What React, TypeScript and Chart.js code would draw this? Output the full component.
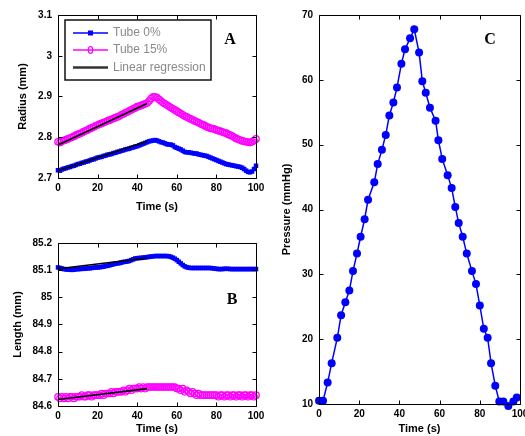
import React, { useEffect, useRef } from "react";
import { Chart, registerables } from "chart.js";

Chart.register(...registerables);

// ---------- DATA ----------
// sample times (s) for panels A and B: one sample per second, 0..100
const sampleTimes: number[] = Array.from({ length: 101 }, (_, i) => i);

// Panel A: Radius (mm)
const radiusTube0: number[] = [
  2.719, 2.718, 2.721, 2.723, 2.724, 2.726, 2.727, 2.729, 2.730, 2.732, 2.734,
  2.735, 2.737, 2.738, 2.740, 2.741, 2.743, 2.745, 2.746, 2.748, 2.750,
  2.751, 2.752, 2.754, 2.755, 2.757, 2.758, 2.759, 2.761, 2.762, 2.764,
  2.765, 2.767, 2.768, 2.770, 2.771, 2.772, 2.774, 2.775, 2.777, 2.778,
  2.780, 2.782, 2.784, 2.786, 2.788, 2.790, 2.791, 2.792, 2.793, 2.792,
  2.790, 2.788, 2.787, 2.785, 2.783, 2.782, 2.782, 2.780, 2.776, 2.774,
  2.772, 2.770, 2.767, 2.764, 2.763, 2.763, 2.762, 2.761, 2.760, 2.760,
  2.758, 2.757, 2.756, 2.755, 2.754, 2.752, 2.750, 2.748, 2.746, 2.744,
  2.742, 2.740, 2.738, 2.736, 2.734, 2.733, 2.732, 2.731, 2.730, 2.729,
  2.728, 2.727, 2.725, 2.722, 2.718, 2.715, 2.714, 2.716, 2.722, 2.730,
];
const radiusTube15: number[] = [
  2.789, 2.787, 2.790, 2.792, 2.794, 2.796, 2.798, 2.800, 2.802, 2.805, 2.807,
  2.809, 2.811, 2.814, 2.816, 2.818, 2.821, 2.823, 2.825, 2.828, 2.830,
  2.832, 2.834, 2.836, 2.838, 2.840, 2.842, 2.844, 2.846, 2.848, 2.850,
  2.852, 2.855, 2.857, 2.860, 2.862, 2.865, 2.867, 2.870, 2.872, 2.875,
  2.876, 2.878, 2.880, 2.882, 2.884, 2.889, 2.895, 2.899, 2.899, 2.897,
  2.893, 2.889, 2.885, 2.882, 2.879, 2.876, 2.873, 2.870, 2.867, 2.864,
  2.861, 2.858, 2.855, 2.852, 2.850, 2.847, 2.845, 2.843, 2.840, 2.838,
  2.836, 2.833, 2.831, 2.829, 2.826, 2.824, 2.822, 2.821, 2.820, 2.818,
  2.816, 2.815, 2.813, 2.811, 2.810, 2.807, 2.805, 2.803, 2.800, 2.797,
  2.795, 2.793, 2.791, 2.790, 2.789, 2.788, 2.787, 2.789, 2.792, 2.796,
];

// Panel B: Length (mm)
const lengthTube0: number[] = [
  85.110, 85.108, 85.106, 85.104, 85.103, 85.102, 85.102, 85.101, 85.102, 85.103, 85.104,
  85.104, 85.105, 85.105, 85.106, 85.107, 85.107, 85.108, 85.109, 85.110, 85.110,
  85.111, 85.112, 85.113, 85.115, 85.116, 85.118, 85.120, 85.122, 85.124, 85.125,
  85.126, 85.128, 85.130, 85.131, 85.132, 85.134, 85.137, 85.140, 85.143, 85.144,
  85.145, 85.145, 85.146, 85.147, 85.148, 85.149, 85.150, 85.151, 85.152, 85.152,
  85.152, 85.152, 85.152, 85.152, 85.152, 85.151, 85.149, 85.146, 85.142, 85.137,
  85.131, 85.125, 85.119, 85.114, 85.111, 85.109, 85.108, 85.108, 85.108, 85.108,
  85.108, 85.108, 85.108, 85.108, 85.108, 85.108, 85.108, 85.107, 85.106, 85.105,
  85.104, 85.104, 85.104, 85.105, 85.105, 85.105, 85.104, 85.104, 85.104, 85.104,
  85.104, 85.104, 85.104, 85.104, 85.104, 85.104, 85.104, 85.104, 85.104, 85.104,
];
const lengthTube15: number[] = [
  84.634, 84.628, 84.634, 84.628, 84.634, 84.628, 84.634, 84.634, 84.628, 84.634, 84.634,
  84.634, 84.640, 84.634, 84.634, 84.640, 84.640, 84.634, 84.640, 84.640, 84.640,
  84.640, 84.646, 84.640, 84.646, 84.646, 84.646, 84.652, 84.646, 84.652, 84.652,
  84.652, 84.652, 84.658, 84.652, 84.658, 84.664, 84.658, 84.664, 84.664, 84.664,
  84.670, 84.664, 84.670, 84.664, 84.670, 84.670, 84.670, 84.670, 84.670, 84.670,
  84.670, 84.670, 84.670, 84.670, 84.670, 84.670, 84.670, 84.670, 84.670, 84.664,
  84.664, 84.658, 84.664, 84.652, 84.658, 84.652, 84.646, 84.652, 84.646, 84.640,
  84.646, 84.640, 84.640, 84.640, 84.640, 84.640, 84.640, 84.640, 84.640, 84.640,
  84.634, 84.640, 84.640, 84.634, 84.640, 84.640, 84.634, 84.640, 84.640, 84.634,
  84.640, 84.640, 84.634, 84.640, 84.640, 84.634, 84.640, 84.640, 84.634, 84.640,
];

// Linear regression over the loading phase (0..45 s)
const regressionTimes: number[] = [0, 45];
const regRadiusTube0: number[] = [2.718, 2.790];
const regRadiusTube15: number[] = [2.781, 2.883];
const regLengthTube0: number[] = [85.105, 85.145];
const regLengthTube15: number[] = [84.624, 84.664];

// Panel C: Pressure (mmHg)
const pressureTimes: number[] = [
  0, 2, 4.3, 6.3, 9.1, 11, 13.1, 15.1, 16.9, 18.9, 20.7, 22.7, 24.4, 27.5, 29.2, 31.3,
  33.2, 35, 37, 38.8, 41, 42.8, 45.3, 47.4, 49.8, 51.4, 53.1, 55.2, 58, 59.4, 61.3, 64,
  66, 67.8, 69.5, 71.5, 73.5, 76.1, 78.1, 80, 82, 83.9, 85.6, 87.7, 89.7, 91.7, 94.2,
  96.7, 98.4,
];
const pressureValues: number[] = [
  10.5, 10.5, 13.3, 16.3, 20.2, 23.7, 25.7, 27.5, 30.5, 33.2, 35.8, 38.5, 41.5, 44.2, 47, 49.2,
  51.5, 54.5, 56.5, 58.8, 62.5, 64.7, 66.4, 67.8, 64.2, 59.8, 58, 55.7, 53.7, 50.7, 47.8, 45.3,
  43.3, 40.4, 37.9, 35.8, 33.2, 30.5, 28.5, 25.2, 21.6, 20.2, 16.3, 12.8, 10.4, 10.4, 9.7,
  10.4, 11,
];

const seriesLabels = ["Tube 0%", "Tube 15%", "Linear regression"];
const xTicks = [0, 20, 40, 60, 80, 100];

// ---------- STYLE ----------
const BLUE = "#0000ff";
const MAGENTA = "#ff00ff";
const SANS = '"Liberation Sans", Arial, sans-serif';

const pts = (xs: number[], ys: number[]) => xs.map((x, i) => ({ x, y: ys[i] }));

const framePlugin = {
  id: "frame",
  afterDatasetsDraw(chart: any, _args: any, opts: any) {
    const { ctx, chartArea: a, scales } = chart;
    ctx.save();
    ctx.strokeStyle = "#000";
    ctx.lineWidth = 1;
    const L = Math.round(a.left) + 0.5,
      R = Math.round(a.right) + 0.5,
      T = Math.round(a.top) + 0.5,
      B = Math.round(a.bottom) + 0.5;
    ctx.beginPath();
    ctx.rect(L, T, R - L, B - T);
    ctx.stroke();
    const tl = 4;
    ctx.beginPath();
    scales.x.ticks.forEach((t: any) => {
      const px = Math.round(scales.x.getPixelForValue(t.value)) + 0.5;
      ctx.moveTo(px, B);
      ctx.lineTo(px, B - tl);
      ctx.moveTo(px, T);
      ctx.lineTo(px, T + tl);
    });
    scales.y.ticks.forEach((t: any) => {
      const py = Math.round(scales.y.getPixelForValue(t.value)) + 0.5;
      ctx.moveTo(L, py);
      ctx.lineTo(L + tl, py);
      ctx.moveTo(R, py);
      ctx.lineTo(R - tl, py);
    });
    ctx.stroke();

    // panel letter
    ctx.fillStyle = "#000";
    ctx.font = 'bold 16px "Liberation Serif", "Times New Roman", serif';
    ctx.textAlign = "center";
    ctx.textBaseline = "middle";
    ctx.fillText(opts.letter, a.left + opts.letterDx, a.top + opts.letterDy);

    // legend box
    if (opts.legend) {
      const x0 = a.left + 7,
        y0 = a.top + 5,
        w = 146,
        h = 60;
      ctx.fillStyle = "#fff";
      ctx.fillRect(x0, y0, w, h);
      ctx.lineWidth = 1.5;
      ctx.strokeStyle = "#111";
      ctx.strokeRect(x0, y0, w, h);
      const rows = [13, 30, 47.5];
      opts.legend.forEach((dsIndex: number, i: number) => {
        const ds = chart.data.datasets[dsIndex];
        const y = y0 + rows[i];
        ctx.strokeStyle = ds.legendColor || ds.borderColor;
        ctx.lineWidth = ds.legendLineWidth || 1.5;
        ctx.beginPath();
        ctx.moveTo(x0 + 8, y);
        ctx.lineTo(x0 + 43, y);
        ctx.stroke();
        if (ds.pointRadius > 0) {
          const cx = x0 + 25.5;
          ctx.beginPath();
          if (ds.legendMarker === "open") {
            ctx.ellipse(cx, y, 2.2, 3.5, 0, 0, Math.PI * 2);
            ctx.lineWidth = 1.2;
            ctx.strokeStyle = ds.borderColor;
            ctx.stroke();
          } else {
            ctx.fillStyle = ds.borderColor;
            ctx.fillRect(cx - 2.5, y - 2.5, 5, 5);
          }
        }
        ctx.fillStyle = "#8a8a8a";
        ctx.font = `12px ${SANS}`;
        ctx.textAlign = "left";
        ctx.textBaseline = "middle";
        ctx.fillText(ds.label, x0 + 48, y);
      });
    }
    ctx.restore();
  },
};

type PanelCfg = {
  left: number;
  top: number;
  width: number;
  height: number;
  padding: { left: number; top: number; right: number; bottom: number };
  yWidth: number;
  xHeight: number;
  yMin: number;
  yMax: number;
  yStep: number;
  yTitle: string;
  yTitleOffset: number;
  xTitleOffset: number;
  datasets: any[];
  frame: any;
};

function makeConfig(p: PanelCfg): any {
  const tickFont = { family: SANS, size: 10, weight: "bold" as const };
  const titleFont = { family: SANS, size: 11, weight: "bold" as const };
  return {
    type: "scatter",
    data: { datasets: p.datasets },
    plugins: [framePlugin],
    options: {
      animation: false,
      responsive: false,
      maintainAspectRatio: false,
      devicePixelRatio: 1,
      layout: { padding: p.padding },
      plugins: {
        legend: { display: false },
        tooltip: { enabled: false },
        frame: p.frame,
      },
      scales: {
        x: {
          type: "linear",
          min: 0,
          max: 100,
          afterBuildTicks: (s: any) => {
            s.ticks = xTicks.map((v) => ({ value: v }));
          },
          grid: { display: false, drawTicks: false },
          border: { display: false },
          ticks: { font: tickFont, color: "#000", padding: 4, maxRotation: 0 },
          title: {
            display: true,
            text: "Time (s)",
            font: titleFont,
            color: "#000",
            padding: { top: 0, bottom: p.xTitleOffset },
          },
          afterFit: (s: any) => {
            s.height = p.xHeight;
            s.paddingLeft = 0;
            s.paddingRight = 0;
          },
        },
        y: {
          type: "linear",
          min: p.yMin,
          max: p.yMax,
          grid: { display: false, drawTicks: false },
          border: { display: false },
          ticks: {
            stepSize: p.yStep,
            font: tickFont,
            color: "#000",
            padding: 6,
            callback: (v: number) => String(Number(v.toFixed(2))),
          },
          title: {
            display: true,
            text: p.yTitle,
            font: titleFont,
            color: "#000",
            padding: { top: p.yTitleOffset, bottom: 0 },
          },
          afterFit: (s: any) => {
            s.width = p.yWidth;
            s.paddingTop = 0;
            s.paddingBottom = 0;
          },
        },
      },
    },
  };
}

function regressionDataset(label: string, ys: number[]) {
  return {
    label,
    data: pts(regressionTimes, ys),
    showLine: true,
    borderColor: "#000",
    legendColor: "#333",
    legendLineWidth: 2.5,
    borderWidth: 1.6,
    pointRadius: 0,
    clip: false,
  };
}

function tube0Dataset(ys: number[]) {
  return {
    label: seriesLabels[0],
    data: pts(sampleTimes, ys),
    showLine: true,
    borderColor: BLUE,
    backgroundColor: BLUE,
    borderWidth: 1,
    pointStyle: "rect",
    pointRadius: 3.2,
    pointBorderWidth: 0,
    clip: false,
  };
}

function tube15Dataset(ys: number[]) {
  return {
    label: seriesLabels[1],
    data: pts(sampleTimes, ys),
    showLine: true,
    borderColor: MAGENTA,
    backgroundColor: "rgba(255,255,255,0)",
    borderWidth: 1,
    pointStyle: "circle",
    pointRadius: 3.2,
    pointBorderWidth: 1.3,
    legendMarker: "open",
    clip: false,
  };
}

const panelA: PanelCfg = {
  left: 0,
  top: 0,
  width: 270,
  height: 215,
  padding: { left: 0, top: 15, right: 14, bottom: 0 },
  yWidth: 58,
  xHeight: 37,
  yMin: 2.7,
  yMax: 3.1,
  yStep: 0.1,
  yTitle: "Radius (mm)",
  yTitleOffset: 16,
  xTitleOffset: 1,
  datasets: [
    regressionDataset(seriesLabels[2], regRadiusTube0),
    { ...regressionDataset("", regRadiusTube15) },
    tube0Dataset(radiusTube0),
    tube15Dataset(radiusTube15),
  ],
  frame: { letter: "A", letterDx: 172, letterDy: 25, legend: [2, 3, 0] },
};

const panelB: PanelCfg = {
  left: 0,
  top: 215,
  width: 270,
  height: 221,
  padding: { left: 0, top: 28, right: 14, bottom: 0 },
  yWidth: 58,
  xHeight: 30,
  yMin: 84.6,
  yMax: 85.2,
  yStep: 0.1,
  yTitle: "Length (mm)",
  yTitleOffset: 11,
  xTitleOffset: 0,
  datasets: [
    regressionDataset(seriesLabels[2], regLengthTube0),
    regressionDataset("", regLengthTube15),
    tube0Dataset(lengthTube0),
    tube15Dataset(lengthTube15),
  ],
  frame: { letter: "B", letterDx: 174, letterDy: 57 },
};

const panelC: PanelCfg = {
  left: 270,
  top: 0,
  width: 255,
  height: 436,
  padding: { left: 0, top: 15, right: 5, bottom: 0 },
  yWidth: 49,
  xHeight: 32,
  yMin: 10,
  yMax: 70,
  yStep: 10,
  yTitle: "Pressure (mmHg)",
  yTitleOffset: 10,
  xTitleOffset: 0,
  datasets: [
    {
      label: "Pressure",
      data: pts(pressureTimes, pressureValues),
      showLine: true,
      borderColor: BLUE,
      backgroundColor: BLUE,
      borderWidth: 1.5,
      pointStyle: "circle",
      pointRadius: 4,
      pointBorderWidth: 0,
      clip: false,
    },
  ],
  frame: { letter: "C", letterDx: 171, letterDy: 25 },
};

function Panel({ cfg }: { cfg: PanelCfg }) {
  const ref = useRef<HTMLCanvasElement | null>(null);
  useEffect(() => {
    if (!ref.current) return;
    const chart = new Chart(ref.current, makeConfig(cfg));
    return () => chart.destroy();
  }, [cfg]);
  return (
    <canvas
      ref={ref}
      width={cfg.width}
      height={cfg.height}
      style={{
        position: "absolute",
        left: cfg.left,
        top: cfg.top,
        width: cfg.width,
        height: cfg.height,
      }}
    />
  );
}

export default function App() {
  return (
    <div
      style={{
        position: "absolute",
        left: 0,
        top: 0,
        width: 525,
        height: 436,
        background: "#fff",
        overflow: "hidden",
      }}
    >
      <Panel cfg={panelA} />
      <Panel cfg={panelB} />
      <Panel cfg={panelC} />
    </div>
  );
}
